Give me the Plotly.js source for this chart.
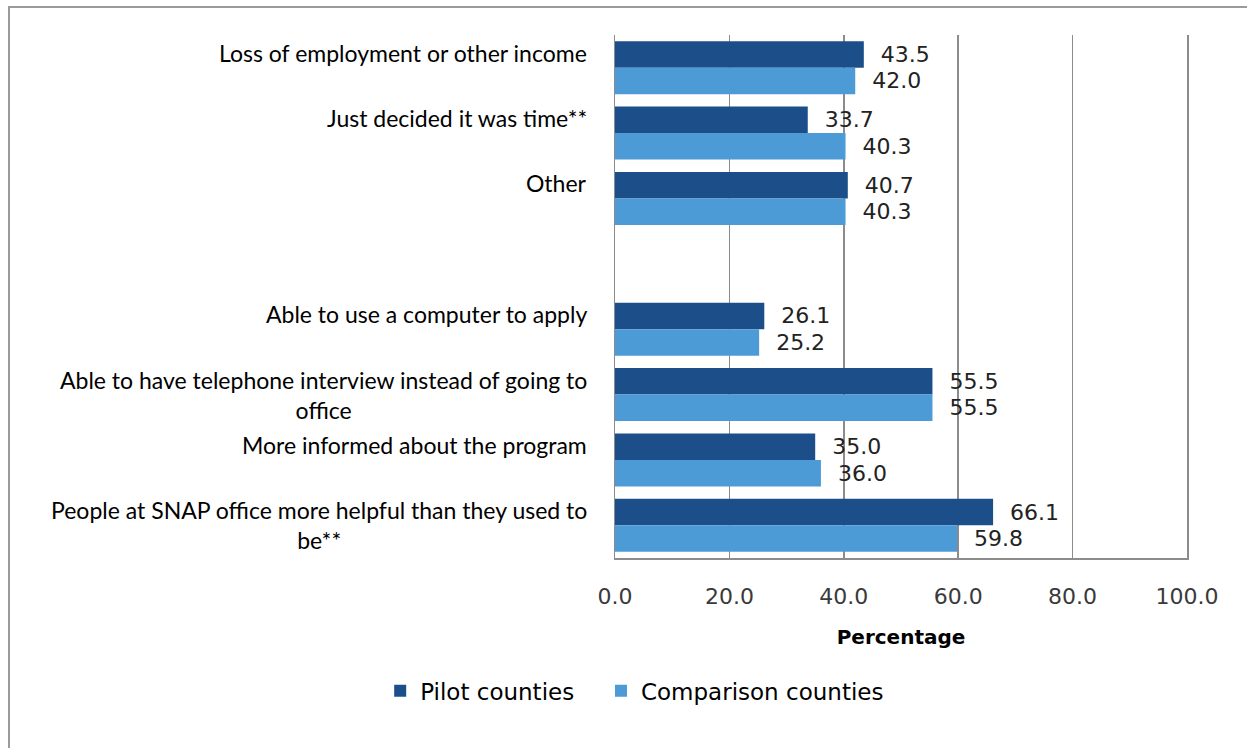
<!DOCTYPE html>
<html>
<head>
<meta charset="utf-8">
<script src="https://cdn.plot.ly/plotly-3.0.1.min.js"></script>
<style>
  html, body { margin: 0; padding: 0; background: #ffffff; overflow: hidden; }
  #chart { width: 1247px; height: 748px; position: absolute; left: 0; top: 0; }
  #frame { position: absolute; left: 8px; top: 6px; width: 3000px; height: 3000px;
           border-left: 2px solid #9a9a9a; border-top: 2px solid #9a9a9a; pointer-events: none; }
</style>
</head>
<body>
<div id="chart"></div>
<div id="frame"></div>
<script>
// ---- data ----
const categories = [
  "Loss of employment or other income",
  "Just decided it was time**",
  "Other",
  " ",
  "Able to use a computer to apply",
  "Able to have telephone interview instead of going to<br>office",
  "More informed about the program",
  "People at SNAP office more helpful than they used to<br>be**"
];
const pilotCounties = [43.5, 33.7, 40.7, null, 26.1, 55.5, 35.0, 66.1];
const comparisonCounties = [42.0, 40.3, 40.3, null, 25.2, 55.5, 36.0, 59.8];
const seriesNames = ["Pilot counties", "Comparison counties"];
const xTickValues = [0, 20, 40, 60, 80, 100];
const xAxisTitle = "Percentage";

const pilotColor = "#1C4F8A";
const comparisonColor = "#4C9BD6";
const labelFont = { family: "DejaVu Sans", size: 22, color: "#222222" };

const traces = [
  {
    type: "bar", orientation: "h", name: seriesNames[0], legend: "legend",
    y: categories, x: pilotCounties,
    marker: { color: pilotColor },
    texttemplate: "\u00a0\u00a0%{x:.1f}", textposition: "outside",
    textfont: labelFont, constraintext: "none", cliponaxis: false,
    hoverinfo: "x+name"
  },
  {
    type: "bar", orientation: "h", name: seriesNames[1], legend: "legend2",
    y: categories, x: comparisonCounties,
    marker: { color: comparisonColor },
    texttemplate: "\u00a0\u00a0%{x:.1f}", textposition: "outside",
    textfont: labelFont, constraintext: "none", cliponaxis: false,
    hoverinfo: "x+name"
  }
];

const annotations = categories
  .filter(c => c.trim() !== "")
  .map(c => ({
    text: c, x: 0, xref: "paper", xanchor: "right", xshift: -26,
    y: c, yref: "y", yanchor: "top", yshift: 31,
    align: "center", showarrow: false,
    font: { family: "Lato, 'Open Sans', sans-serif", size: 23, color: "#000000" }
  }));

const legendBase = {
  orientation: "h", xanchor: "left", y: -0.254, yanchor: "middle",
  font: { family: "DejaVu Sans", size: 23, color: "#000000" },
  itemwidth: 30, bgcolor: "rgba(0,0,0,0)"
};

const layout = {
  width: 1247, height: 748,
  margin: { l: 615, r: 59.5, t: 35, b: 190 },
  paper_bgcolor: "rgba(0,0,0,0)", plot_bgcolor: "#ffffff",
  barmode: "group", bargap: 0.19, bargroupgap: 0,
  showlegend: true,
  legend: Object.assign({}, legendBase, { x: -0.4105 }),
  legend2: Object.assign({}, legendBase, { x: -0.0245 }),
  xaxis: {
    range: [0, 100], tickvals: xTickValues, tickformat: ".1f",
    showgrid: true, gridcolor: "#8c8c8c", gridwidth: 1.5,
    showline: true, linecolor: "#8c8c8c", linewidth: 1.5,
    zeroline: false, ticks: "", ticklabelstandoff: 18,
    tickfont: { family: "DejaVu Sans", size: 22, color: "#3a3a3a" },
    title: { text: xAxisTitle, standoff: 22,
             font: { family: "DejaVu Sans", size: 20, color: "#000000", weight: "bold" } },
    fixedrange: true
  },
  yaxis: {
    type: "category", categoryorder: "array", categoryarray: categories,
    autorange: "reversed", showticklabels: false, ticks: "",
    showgrid: false, zeroline: false,
    showline: true, mirror: true, linecolor: "#8c8c8c", linewidth: 1.5,
    fixedrange: true
  },
  annotations: annotations
};

Plotly.newPlot("chart", traces, layout, { displayModeBar: false, staticPlot: true });
</script>
</body>
</html>
